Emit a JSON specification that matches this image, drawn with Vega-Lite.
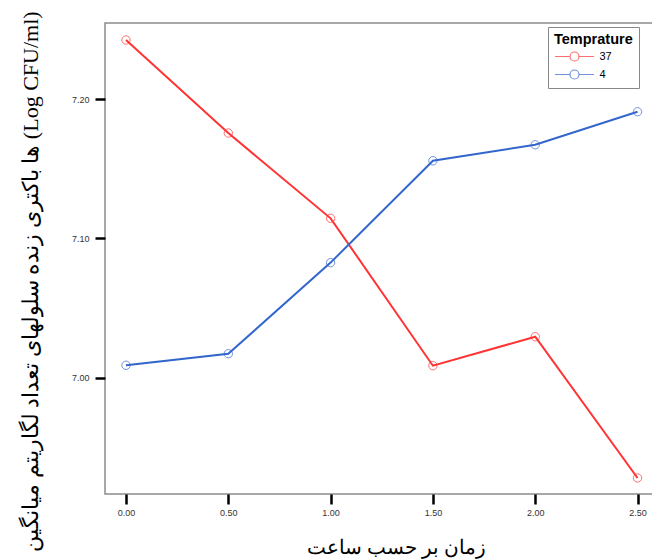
{
  "$schema": "https://vega.github.io/schema/vega-lite/v6.json",
  "autosize": {"type": "none"},
  "width": 553,
  "height": 471,
  "padding": {"left": 105, "top": 23, "right": 0, "bottom": 66},
  "background": "white",
  "config": {
    "view": {"stroke": "#8c8c8c", "strokeWidth": 1.5},
    "axis": {
      "domain": false,
      "grid": false,
      "tickColor": "black",
      "tickWidth": 2.5,
      "tickSize": 10,
      "labelFont": "Liberation Sans",
      "labelFontSize": 9,
      "labelColor": "#333333",
      "titleFont": "Liberation Serif",
      "titleFontWeight": "normal",
      "titleColor": "black",
      "titleFontSize": 20
    }
  },
  "data": {
    "values": [
      {"time": 0.0, "value": 7.2424, "Temprature": "37"},
      {"time": 0.5, "value": 7.1756, "Temprature": "37"},
      {"time": 1.0, "value": 7.1144, "Temprature": "37"},
      {"time": 1.5, "value": 7.0086, "Temprature": "37"},
      {"time": 2.0, "value": 7.0294, "Temprature": "37"},
      {"time": 2.5, "value": 6.9280, "Temprature": "37"},
      {"time": 0.0, "value": 7.0089, "Temprature": "4"},
      {"time": 0.5, "value": 7.0172, "Temprature": "4"},
      {"time": 1.0, "value": 7.0826, "Temprature": "4"},
      {"time": 1.5, "value": 7.1557, "Temprature": "4"},
      {"time": 2.0, "value": 7.1672, "Temprature": "4"},
      {"time": 2.5, "value": 7.1909, "Temprature": "4"}
    ]
  },
  "encoding": {
    "x": {
      "field": "time", "type": "quantitative",
      "scale": {"domain": [-0.1026, 2.6], "nice": false, "zero": false},
      "axis": {
        "values": [0, 0.5, 1, 1.5, 2, 2.5],
        "format": ".2f",
        "labelPadding": 4,
        "title": "زمان بر حسب ساعت",
        "titleX": 291,
        "titleY": 53,
        "titleBaseline": "middle",
        "titleAlign": "center"
      }
    },
    "y": {
      "field": "value", "type": "quantitative",
      "scale": {"domain": [6.9165, 7.2546], "nice": false, "zero": false},
      "axis": {
        "values": [7.0, 7.1, 7.2],
        "format": ".2f",
        "labelPadding": 6,
        "title": "ها باکتری زنده سلولهای تعداد لگاریتم میانگین (Log CFU/ml)",
        "titleFontSize": 22,
        "titleX": -75,
        "titleY": 258,
        "titleAngle": -90,
        "titleBaseline": "middle",
        "titleAlign": "center"
      }
    },
    "color": {
      "field": "Temprature", "type": "nominal",
      "scale": {"domain": ["37", "4"], "range": ["#ff3333", "#3366cc"]},
      "legend": {
        "orient": "none",
        "legendX": 443,
        "legendY": 4,
        "fillColor": "white",
        "strokeColor": "#888888",
        "padding": 6,
        "title": "Temprature",
        "titleFont": "Liberation Sans",
        "titleFontSize": 14.5,
        "titleFontWeight": "bold",
        "titleColor": "black",
        "titlePadding": 3,
        "labelFont": "Liberation Sans",
        "labelFontSize": 11,
        "labelColor": "black",
        "labelOffset": 19,
        "rowPadding": 4,
        "symbolOffset": 14.5,
        "symbolType": "M-3.9,0H-0.9M0.9,0A0.9,0.9,0,1,1,-0.9,0A0.9,0.9,0,1,1,0.9,0M0.9,0H3.9",
        "symbolSize": 100,
        "symbolStrokeWidth": 1.2,
        "symbolFillColor": "transparent"
      }
    }
  },
  "layer": [
    {"mark": {"type": "line", "strokeWidth": 2}},
    {"mark": {"type": "point", "filled": false, "size": 70, "strokeWidth": 1}}
  ]
}
